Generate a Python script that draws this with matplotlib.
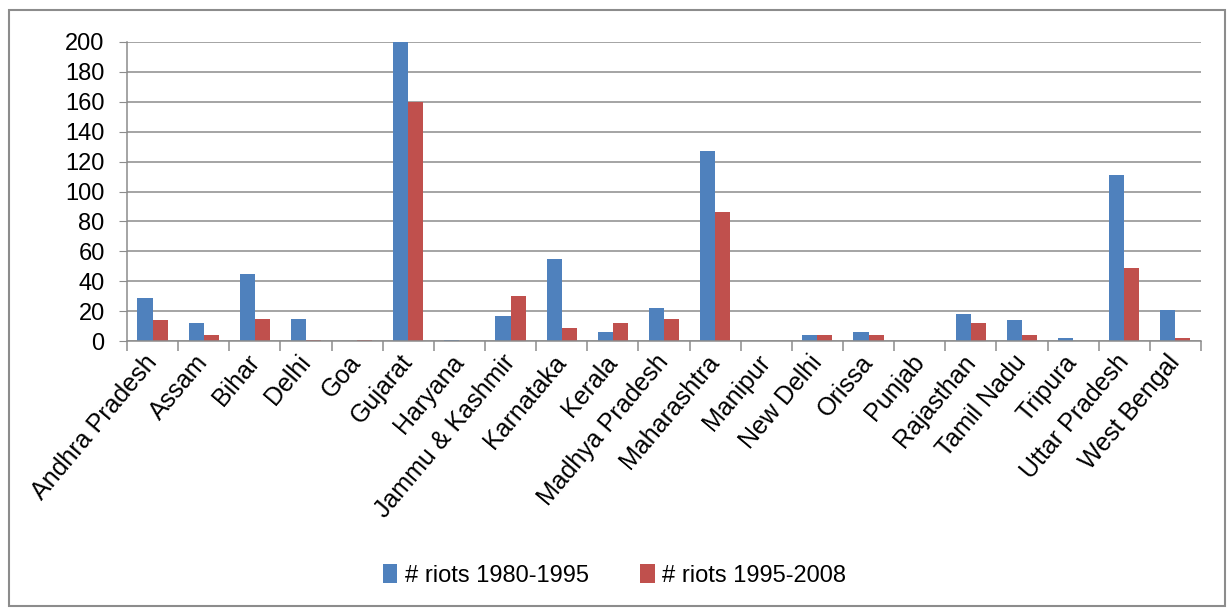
# Riots per state, two periods, Excel-style clustered bars
import numpy as np
import matplotlib
matplotlib.use('Agg')
from matplotlib import pyplot as plt
from matplotlib.patches import Rectangle

states = ['Andhra Pradesh', 'Assam', 'Bihar', 'Delhi', 'Goa', 'Gujarat', 'Haryana',
          'Jammu & Kashmir', 'Karnataka', 'Kerala', 'Madhya Pradesh', 'Maharashtra',
          'Manipur', 'New Delhi', 'Orissa', 'Punjab', 'Rajasthan', 'Tamil Nadu',
          'Tripura', 'Uttar Pradesh', 'West Bengal']
riots_1980_1995 = [29, 12, 45, 15, 0, 200, 1, 17, 55, 6, 22, 127,
                   0, 4, 6, 0, 18, 14, 2.5, 111, 21]
riots_1995_2008 = [14, 4.5, 15, 1, 1, 160, 0, 30, 9, 12, 15, 86,
                   0, 4, 4, 0, 12, 4, 0, 49, 2.5]
series_names = ['# riots 1980-1995', '# riots 1995-2008']
yticks = list(range(0, 201, 20))

plt.rcParams['font.family'] = ['Liberation Sans', 'DejaVu Sans']

fig = plt.figure(figsize=(12.29, 6.10), dpi=100)
ax = fig.add_axes([0.1033, 0.4405, 0.8739, 0.4911])

x = np.arange(len(states))
w = 0.295
ax.bar(x - w / 2, riots_1980_1995, width=w, color='#4F81BD', label=series_names[0])
ax.bar(x + w / 2, riots_1995_2008, width=w, color='#C0504D', label=series_names[1])

ax.set_xlim(-0.5, len(states) - 0.5)
ax.set_ylim(0, 200)
ax.set_yticks(yticks)
ax.yaxis.grid(True, color='#8c8c8c', linewidth=1.1)
ax.set_axisbelow(True)

for side in ['top', 'right']:
    ax.spines[side].set_visible(False)
for side in ['left', 'bottom']:
    ax.spines[side].set_color('#8c8c8c')
    ax.spines[side].set_linewidth(1.1)

ax.tick_params(axis='y', length=6, color='#8c8c8c', labelsize=17, pad=10)
ax.set_xticks(x)
ax.set_xticklabels(states, rotation=50, ha='right', va='center',
                   rotation_mode='anchor', fontsize=18)
ax.tick_params(axis='x', which='major', length=0, pad=12)
ax.set_xticks(np.arange(-0.5, len(states)), minor=True)
ax.tick_params(axis='x', which='minor', length=7, color='#8c8c8c', width=1.1)

fig.legend(loc='center', bbox_to_anchor=(0.5, 0.057), ncol=2, frameon=False,
           fontsize=17, handlelength=0.6, handleheight=0.9, columnspacing=2.2,
           handletextpad=0.3)

# outer chart border
fig.patches.append(Rectangle((0.007, 0.006), 0.990, 0.978, transform=fig.transFigure,
                             fill=False, edgecolor='#8c8c8c', linewidth=1.5))

plt.savefig('out.png', dpi=100)
